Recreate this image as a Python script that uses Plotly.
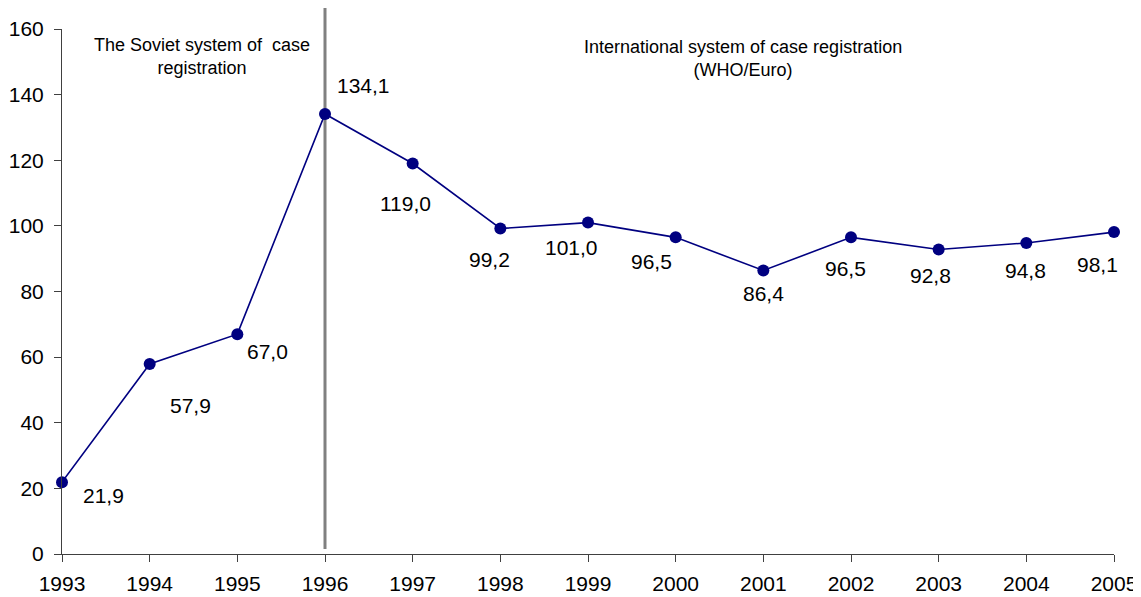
import plotly.graph_objects as go

years = [1993, 1994, 1995, 1996, 1997, 1998, 1999, 2000, 2001, 2002, 2003, 2004, 2005]
rates = [21.9, 57.9, 67.0, 134.1, 119.0, 99.2, 101.0, 96.5, 86.4, 96.5, 92.8, 94.8, 98.1]
y_ticks = [0, 20, 40, 60, 80, 100, 120, 140, 160]
label_texts = [f"{v:.1f}".replace(".", ",") for v in rates]
# pixel offsets of each value label from its point (dx right, dy down)
label_offsets = [(41, 13), (41, 41), (30, 17), (38, -28), (-7, 40), (-11, 31), (-17, 25),
                 (-24, 24), (0, 23), (-6, 31), (-8, 26), (-1, 28), (-17, 32)]
split_year = 1996

FONT = "Arial, 'Liberation Sans', sans-serif"
NAVY = "#000080"
AXIS = "#404040"

fig = go.Figure()
fig.add_trace(go.Scatter(
    x=years, y=rates, mode="lines+markers",
    line=dict(color=NAVY, width=1.6),
    marker=dict(color=NAVY, size=12),
    cliponaxis=False, hoverinfo="x+y", showlegend=False,
))

annotations = []
for x, y, t, (dx, dy) in zip(years, rates, label_texts, label_offsets):
    annotations.append(dict(x=x, y=y, xref="x", yref="y", text=t, showarrow=False,
                            xshift=dx, yshift=-dy, font=dict(size=21, color="black", family=FONT)))

annotations.append(dict(x=1994.6, y=151.5, xref="x", yref="y",
                        text="The Soviet system of  case<br>registration", showarrow=False,
                        font=dict(size=18, color="black", family=FONT)))
annotations.append(dict(x=2000.77, y=151, xref="x", yref="y",
                        text="International system of case registration<br>(WHO/Euro)", showarrow=False,
                        font=dict(size=18, color="black", family=FONT)))

fig.add_shape(type="line", xref="x", yref="paper", x0=split_year, x1=split_year,
              y0=0.0095, y1=1.04, line=dict(color="#808080", width=3), layer="below")

fig.update_layout(
    width=1133, height=589,
    margin=dict(l=54, r=27, t=21, b=43),
    paper_bgcolor="white", plot_bgcolor="white",
    font=dict(family=FONT, size=21, color="black"),
    annotations=annotations,
    xaxis=dict(range=[1993, 2005], tickvals=years, ticktext=[str(y) for y in years],
               showgrid=False, zeroline=False, showline=True, linecolor=AXIS, linewidth=1,
               ticks="outside", ticklen=7, tickcolor=AXIS, tickwidth=1, automargin=False,
               ticklabelstandoff=4, tickfont=dict(size=21, color="black")),
    yaxis=dict(range=[0, 160], tickvals=y_ticks, showgrid=False, zeroline=False,
               showline=True, linecolor=AXIS, linewidth=1, automargin=False,
               ticks="outside", ticklen=7, tickcolor=AXIS, tickwidth=1,
               ticklabelstandoff=6, tickfont=dict(size=21, color="black")),
)

fig.write_html("out.html")
